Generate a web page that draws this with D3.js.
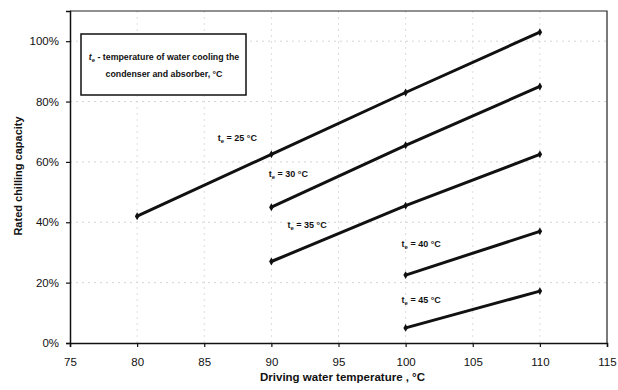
<!DOCTYPE html>
<html>
<head>
<meta charset="utf-8">
<script src="https://cdn.jsdelivr.net/npm/d3@7"></script>
<style>
  body { margin: 0; background: #fff; }
  svg { font-family: "Liberation Sans", Arial, sans-serif; }
</style>
</head>
<body>
<svg id="chart" width="618" height="390"></svg>
<script>
// driving water temperature (°C) per curve and rated chilling capacity (fraction)
const series = [
  {te: 25, x: [80, 90, 100, 110], y: [0.42, 0.625, 0.83, 1.03], lx: 86, ly: 0.68},
  {te: 30, x: [90, 100, 110], y: [0.45, 0.655, 0.85], lx: 89.8, ly: 0.56},
  {te: 35, x: [90, 100, 110], y: [0.27, 0.455, 0.625], lx: 91.2, ly: 0.39},
  {te: 40, x: [100, 110], y: [0.225, 0.37], lx: 99.7, ly: 0.33},
  {te: 45, x: [100, 110], y: [0.05, 0.172], lx: 99.7, ly: 0.142}
];
const xTicks = [75, 80, 85, 90, 95, 100, 105, 110, 115];
const yTicks = [0, 0.2, 0.4, 0.6, 0.8, 1.0];

const margin = {top: 11, right: 11, bottom: 47, left: 70};
const width = 618 - margin.left - margin.right;
const height = 390 - margin.top - margin.bottom;

const svg = d3.select("#chart");
const g = svg.append("g")
  .attr("transform", "translate(" + margin.left + "," + margin.top + ")");

const x = d3.scaleLinear().domain([75, 115]).range([0, width]);
const y = d3.scaleLinear().domain([0, 1.1]).range([height, 0]);

// faint dotted grid
g.append("g")
  .selectAll("line")
  .data(yTicks.slice(1))
  .join("line")
  .attr("x1", 0).attr("x2", width)
  .attr("y1", d => y(d)).attr("y2", d => y(d))
  .attr("stroke", "#d4d4d4").attr("stroke-width", 1).attr("stroke-dasharray", "2,4");
g.append("g")
  .selectAll("line")
  .data(xTicks.slice(1, -1))
  .join("line")
  .attr("y1", 0).attr("y2", height)
  .attr("x1", d => x(d)).attr("x2", d => x(d))
  .attr("stroke", "#dcdcdc").attr("stroke-width", 1).attr("stroke-dasharray", "2,4");

// plot frame (top & right)
g.append("path")
  .attr("d", "M0,0H" + width + "V" + height)
  .attr("fill", "none").attr("stroke", "#222").attr("stroke-width", 1.2);

// axes
const xAxis = g.append("g")
  .attr("transform", "translate(0," + height + ")")
  .call(d3.axisBottom(x).tickValues(xTicks).tickSize(4).tickPadding(11).tickFormat(d3.format("d")));
const yAxis = g.append("g")
  .call(d3.axisLeft(y).tickValues(yTicks).tickSize(4).tickPadding(7).tickFormat(d3.format(".0%")));
[xAxis, yAxis].forEach(a => {
  a.select(".domain").attr("stroke", "#111").attr("stroke-width", 1.5);
  a.selectAll(".tick line").attr("stroke", "#111").attr("stroke-width", 1.2);
  a.selectAll("text").attr("font-size", 11.5).attr("fill", "#111")
    .attr("font-family", "Liberation Sans, Arial, sans-serif");
});

// lines and markers
const line = d3.line().x(d => x(d[0])).y(d => y(d[1]));
const diamond = d3.symbol().type(d3.symbolDiamond).size(18);
series.forEach(s => {
  const pts = s.x.map((v, i) => [v, s.y[i]]);
  g.append("path")
    .datum(pts)
    .attr("d", line)
    .attr("fill", "none").attr("stroke", "#111").attr("stroke-width", 3);
  g.append("g")
    .selectAll("path")
    .data(pts)
    .join("path")
    .attr("d", diamond)
    .attr("transform", d => "translate(" + x(d[0]) + "," + y(d[1]) + ")")
    .attr("fill", "#111");
  const t = g.append("text")
    .attr("x", x(s.lx)).attr("y", y(s.ly))
    .attr("dy", "0.35em")
    .attr("font-size", 9).attr("font-weight", "bold").attr("fill", "#111");
  t.append("tspan").text("t");
  t.append("tspan").attr("font-size", 6).attr("dy", 2).text("e");
  t.append("tspan").attr("dy", -2).text(" = " + s.te + " °C");
});

// legend box
const lg = svg.append("g").attr("transform", "translate(81,34)");
lg.append("rect")
  .attr("width", 165).attr("height", 61)
  .attr("fill", "#fff").attr("stroke", "#111").attr("stroke-width", 1.5);
const l1 = lg.append("text")
  .attr("x", 83).attr("y", 26).attr("text-anchor", "middle")
  .attr("font-size", 8.8).attr("font-weight", "bold").attr("fill", "#111");
l1.append("tspan").attr("font-style", "italic").text("t");
l1.append("tspan").attr("font-size", 6).attr("dy", 2).text("e");
l1.append("tspan").attr("dy", -2).text(" - temperature of water cooling the");
lg.append("text")
  .attr("x", 83).attr("y", 43).attr("text-anchor", "middle")
  .attr("font-size", 8.8).attr("font-weight", "bold").attr("fill", "#111")
  .text("condenser and absorber, °C");

// axis titles
svg.append("text")
  .attr("x", margin.left + x(95.3)).attr("y", 381)
  .attr("text-anchor", "middle")
  .attr("font-size", 11.5).attr("font-weight", "bold").attr("fill", "#111")
  .text("Driving water temperature , °C");
svg.append("text")
  .attr("transform", "translate(22," + 176 + ") rotate(-90)")
  .attr("text-anchor", "middle")
  .attr("font-size", 11).attr("font-weight", "bold").attr("fill", "#111")
  .text("Rated chilling capacity");
</script>
</body>
</html>
